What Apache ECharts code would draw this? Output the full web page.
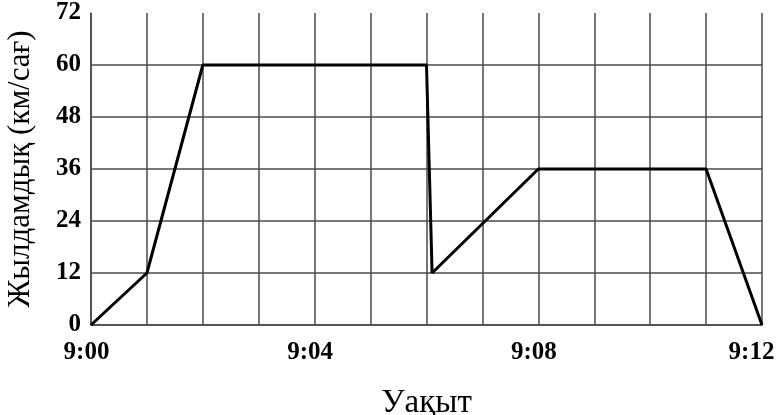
<!DOCTYPE html>
<html>
<head>
<meta charset="utf-8">
<script src="https://cdn.jsdelivr.net/npm/echarts@6/dist/echarts.min.js"></script>
<style>
  html, body { margin: 0; padding: 0; background: #fff; }
  #chart { width: 777px; height: 415px; }
</style>
</head>
<body>
<div id="chart"></div>
<script>
// minutes after 9:00 and speed (км/сағ)
var minutes = [0, 1, 2, 6, 6.1, 8, 11, 12];
var speeds = [0, 12, 60, 60, 12, 36, 36, 0];
var xTickLabels = { 0: "9:00", 4: "9:04", 8: "9:08", 12: "9:12" };
var yTicks = [0, 12, 24, 36, 48, 60, 72];

var chart = echarts.init(document.getElementById("chart"));
var font = "'Liberation Serif', 'DejaVu Serif', serif";
var gridColor = "#4a4a4a";
var labelStyle = { fontFamily: font, fontWeight: "bold", fontSize: 25, color: "#000" };

chart.setOption({
  animation: false,
  grid: { left: 91, right: 15, top: 13, bottom: 90, outerBoundsMode: "none", containLabel: false },
  xAxis: {
    type: "value",
    min: 0,
    max: 12,
    interval: 1,
    name: "Уақыт",
    nameLocation: "middle",
    nameGap: 62,
    nameTextStyle: { fontFamily: font, fontSize: 33, color: "#000" },
    axisLine: { show: true, lineStyle: { color: gridColor, width: 1.5 } },
    axisTick: { show: false },
    axisLabel: Object.assign({}, labelStyle, {
      margin: 15,
      padding: [0, 9, 0, 0],
      formatter: function (v) {
        if (!xTickLabels[v]) return "";
        // last label sits a bit further left so it stays inside the frame
        return v === 12 ? "{last|" + xTickLabels[v] + "}" : xTickLabels[v];
      },
      rich: {
        last: Object.assign({}, labelStyle, { padding: [0, 12, 0, 0] }),
      },
    }),
    splitLine: { show: true, lineStyle: { color: gridColor, width: 1.5 } },
  },
  yAxis: {
    type: "value",
    min: yTicks[0],
    max: yTicks[yTicks.length - 1],
    interval: 12,
    name: "Жылдамдық (км/сағ)",
    nameLocation: "middle",
    nameGap: 55,
    nameTextStyle: { fontFamily: font, fontSize: 31, color: "#000" },
    axisLine: { show: true, lineStyle: { color: gridColor, width: 1.5 } },
    axisTick: { show: false },
    axisLabel: Object.assign({}, labelStyle, { margin: 10 }),
    splitLine: { show: true, showMaxLine: false, lineStyle: { color: gridColor, width: 1.5 } },
  },
  series: [
    {
      type: "line",
      data: minutes.map(function (m, i) {
        return [m, speeds[i]];
      }),
      symbol: "none",
      lineStyle: { color: "#000", width: 3 },
    },
  ],
});
</script>
</body>
</html>
